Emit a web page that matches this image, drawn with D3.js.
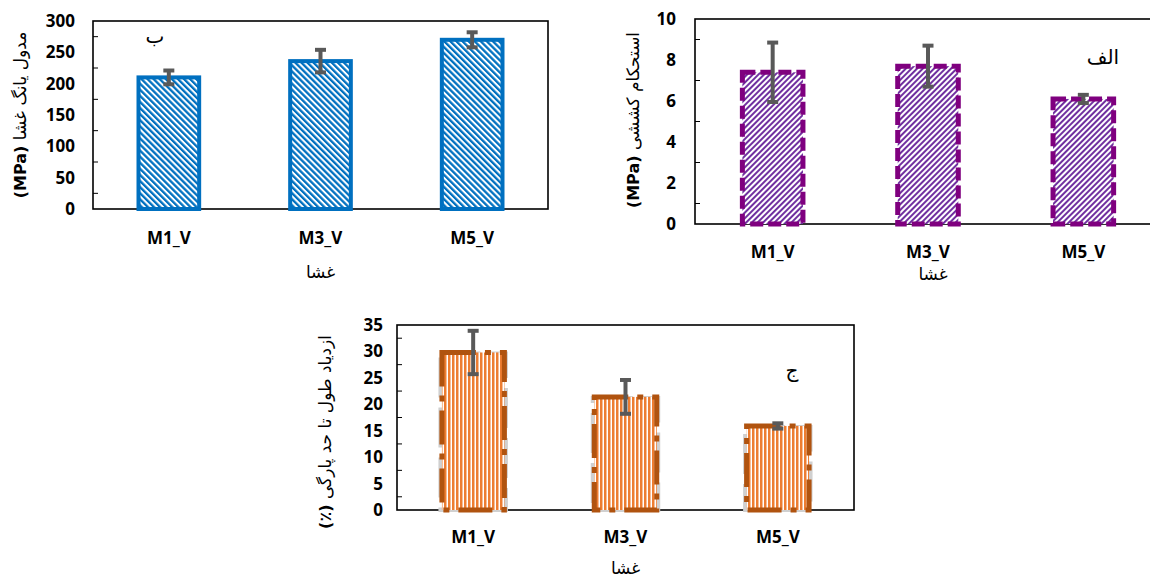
<!DOCTYPE html>
<html>
<head>
<meta charset="utf-8">
<script src="https://cdn.jsdelivr.net/npm/d3@7"></script>
<style>
  html, body { margin: 0; padding: 0; background: #fff; }
  svg { display: block; }
  .tick-label { font-family: "Open Sans", sans-serif; font-weight: 700; font-size: 17px; fill: #000; }
  .cat-label { font-family: "Open Sans", sans-serif; font-weight: 700; font-size: 17px; fill: #000; }
  .fa { font-family: "DejaVu Sans", sans-serif; fill: #000; }
</style>
</head>
<body>
<div id="chart"></div>
<script>
// categories shared by the three panels
const categories = ['M1_V', 'M3_V', 'M5_V'];

// panel ب : young modulus (MPa)
const modulusValues = [210, 236, 270];
const modulusErrors = [11, 18, 12];
const modulusTicks = [0, 50, 100, 150, 200, 250, 300];

// panel الف : tensile strength (MPa)
const tensileValues = [7.4, 7.7, 6.1];
const tensileErrors = [1.45, 1.0, 0.2];
const tensileTicks = [0, 2, 4, 6, 8, 10];

// panel ج : elongation at break (%)
const elongationValues = [29.8, 21.4, 15.9];
const elongationErrors = [4.1, 3.2, 0.5];
const elongationTicks = [0, 5, 10, 15, 20, 25, 30, 35];

const W = 1150, H = 582;

const svg = d3.select('#chart').append('svg')
  .attr('width', W)
  .attr('height', H)
  .attr('viewBox', `0 0 ${W} ${H}`);

const defs = svg.append('defs');

function stripes(id, color, size, band, angle, bg) {
  const p = defs.append('pattern')
    .attr('id', id)
    .attr('patternUnits', 'userSpaceOnUse')
    .attr('width', size)
    .attr('height', size)
    .attr('patternTransform', `rotate(${angle})`);
  p.append('rect').attr('width', size).attr('height', size).attr('fill', bg || '#fff');
  p.append('rect').attr('width', band).attr('height', size).attr('fill', color);
}

stripes('blueHatch', '#0070C0', 4.3, 2.3, -45);
stripes('purpleHatch', '#7030A0', 4.0, 2.0, 45);
stripes('orangeHatch', '#ED7D31', 4.0, 2.5, 0);

function drawPanel(cfg) {
  const g = svg.append('g');

  const x = d3.scaleBand()
    .domain(categories)
    .range([cfg.x0, cfg.x1])
    .paddingInner(cfg.pad)
    .paddingOuter(cfg.pad / 2);

  const y = d3.scaleLinear()
    .domain([0, cfg.max])
    .range([cfg.y1, cfg.y0]);

  // frame
  g.append('rect')
    .attr('x', cfg.x0)
    .attr('y', cfg.y0)
    .attr('width', cfg.x1 - cfg.x0)
    .attr('height', cfg.y1 - cfg.y0)
    .attr('fill', 'none')
    .attr('stroke', '#000')
    .attr('stroke-width', 1.6);

  // minor ticks inside the plot
  const minor = d3.range(cfg.minorStep, cfg.max, cfg.minorStep * 2);
  g.selectAll('.ytick').data(minor).join('line')
    .attr('x1', cfg.x0).attr('x2', cfg.x0 + 5)
    .attr('y1', d => y(d)).attr('y2', d => y(d))
    .attr('stroke', '#000').attr('stroke-width', 1);

  g.selectAll('.xtick').data(categories).join('line')
    .attr('x1', d => x(d) + x.bandwidth() / 2)
    .attr('x2', d => x(d) + x.bandwidth() / 2)
    .attr('y1', cfg.y1).attr('y2', cfg.y1 - 5)
    .attr('stroke', '#000').attr('stroke-width', 1);

  // y tick labels
  g.selectAll('.ylab').data(cfg.ticks).join('text')
    .attr('class', 'tick-label')
    .attr('x', cfg.x0 - cfg.labelGap)
    .attr('y', d => y(d))
    .attr('dy', '0.35em')
    .attr('text-anchor', 'end')
    .text(d => d);

  // x category labels
  g.selectAll('.xlab').data(categories).join('text')
    .attr('class', 'cat-label')
    .attr('x', d => x(d) + x.bandwidth() / 2)
    .attr('y', cfg.y1 + cfg.catGap)
    .attr('dy', '0.35em')
    .attr('text-anchor', 'middle')
    .text(d => d);

  const rows = categories.map((c, i) => ({ c, v: cfg.values[i], e: cfg.errors[i] }));

  // gray shadow under the orange outline
  if (cfg.shadow) {
    g.selectAll('.shadow').data(rows).join('rect')
      .attr('x', d => x(d.c) - 1.5)
      .attr('y', d => y(d.v) + 1)
      .attr('width', x.bandwidth() + 3)
      .attr('height', d => y(0) - y(d.v) - 1)
      .attr('fill', 'none')
      .attr('stroke', '#d0d0d0')
      .attr('stroke-width', 4)
      .attr('stroke-dasharray', '40,10');
  }

  // bars
  g.selectAll('.bar').data(rows).join('rect')
    .attr('x', d => x(d.c))
    .attr('y', d => y(d.v))
    .attr('width', x.bandwidth())
    .attr('height', d => y(0) - y(d.v))
    .attr('fill', cfg.fill)
    .attr('stroke', cfg.stroke)
    .attr('stroke-width', cfg.strokeWidth)
    .attr('stroke-dasharray', cfg.dash || null);

  // error bars
  const eb = g.selectAll('.err').data(rows).join('g')
    .attr('transform', d => `translate(${x(d.c) + x.bandwidth() / 2},0)`);
  eb.append('line')
    .attr('y1', d => y(d.v + d.e)).attr('y2', d => y(d.v - d.e))
    .attr('stroke', '#595959').attr('stroke-width', 4);
  eb.selectAll('.cap').data(d => [d.v + d.e, d.v - d.e]).join('line')
    .attr('x1', -5.5).attr('x2', 5.5)
    .attr('y1', d => y(d)).attr('y2', d => y(d))
    .attr('stroke', '#595959').attr('stroke-width', 4);

  // panel letter
  g.append('text')
    .attr('class', 'fa')
    .attr('x', cfg.letterX)
    .attr('y', cfg.letterY)
    .attr('text-anchor', 'middle')
    .attr('dy', '0.35em')
    .attr('font-size', 20)
    .text(cfg.letter);

  // x title
  g.append('text')
    .attr('class', 'fa')
    .attr('x', (cfg.x0 + Math.min(cfg.x1, W + 20)) / 2 + (cfg.titleShift || 0))
    .attr('y', cfg.xTitleY)
    .attr('dy', '0.35em')
    .attr('text-anchor', 'middle')
    .attr('font-size', 17)
    .text('غشا');

  // y title
  const yt = g.append('text')
    .attr('class', 'fa')
    .attr('transform', `translate(${cfg.yTitleX},${cfg.yTitleY}) rotate(-90)`)
    .attr('text-anchor', 'middle')
    .attr('dy', '0.35em')
    .attr('direction', 'rtl')
    .attr('font-size', 17);
  yt.append('tspan').text(cfg.yTitle);
  yt.append('tspan').attr('font-weight', 700).attr('font-size', 16).text(cfg.yUnit);
}

drawPanel({
  x0: 93, x1: 548, y0: 21, y1: 209, max: 300, minorStep: 25, pad: 0.6,
  ticks: modulusTicks, values: modulusValues, errors: modulusErrors,
  fill: 'url(#blueHatch)', stroke: '#0070C0', strokeWidth: 4,
  labelGap: 18, catGap: 29, xTitleY: 272,
  letter: 'ب', letterX: 155, letterY: 36,
  yTitle: 'مدول یانگ غشا ', yUnit: '(MPa)', yTitleX: 20, yTitleY: 115
});

drawPanel({
  x0: 695, x1: 1161, y0: 19, y1: 224, max: 10, minorStep: 1, pad: 0.61,
  ticks: tensileTicks, values: tensileValues, errors: tensileErrors,
  fill: 'url(#purpleHatch)', stroke: '#7F007F', strokeWidth: 5, dash: '13,5',
  labelGap: 19, catGap: 28, xTitleY: 274, titleShift: 5,
  letter: 'الف', letterX: 1103, letterY: 57,
  yTitle: 'استحکام کششی ', yUnit: '(MPa)', yTitleX: 633, yTitleY: 120
});

drawPanel({
  x0: 397, x1: 854, y0: 325, y1: 510, max: 35, minorStep: 2.5, pad: 0.59,
  ticks: elongationTicks, values: elongationValues, errors: elongationErrors,
  fill: 'url(#orangeHatch)', stroke: '#B0530F', strokeWidth: 5, dash: '34,9,6,9',
  shadow: true,
  labelGap: 14, catGap: 27, xTitleY: 568,
  letter: 'ج', letterX: 792, letterY: 370,
  yTitle: 'ازدیاد طول تا حد پارگی ', yUnit: '(٪)', yTitleX: 325, yTitleY: 432
});
</script>
</body>
</html>
